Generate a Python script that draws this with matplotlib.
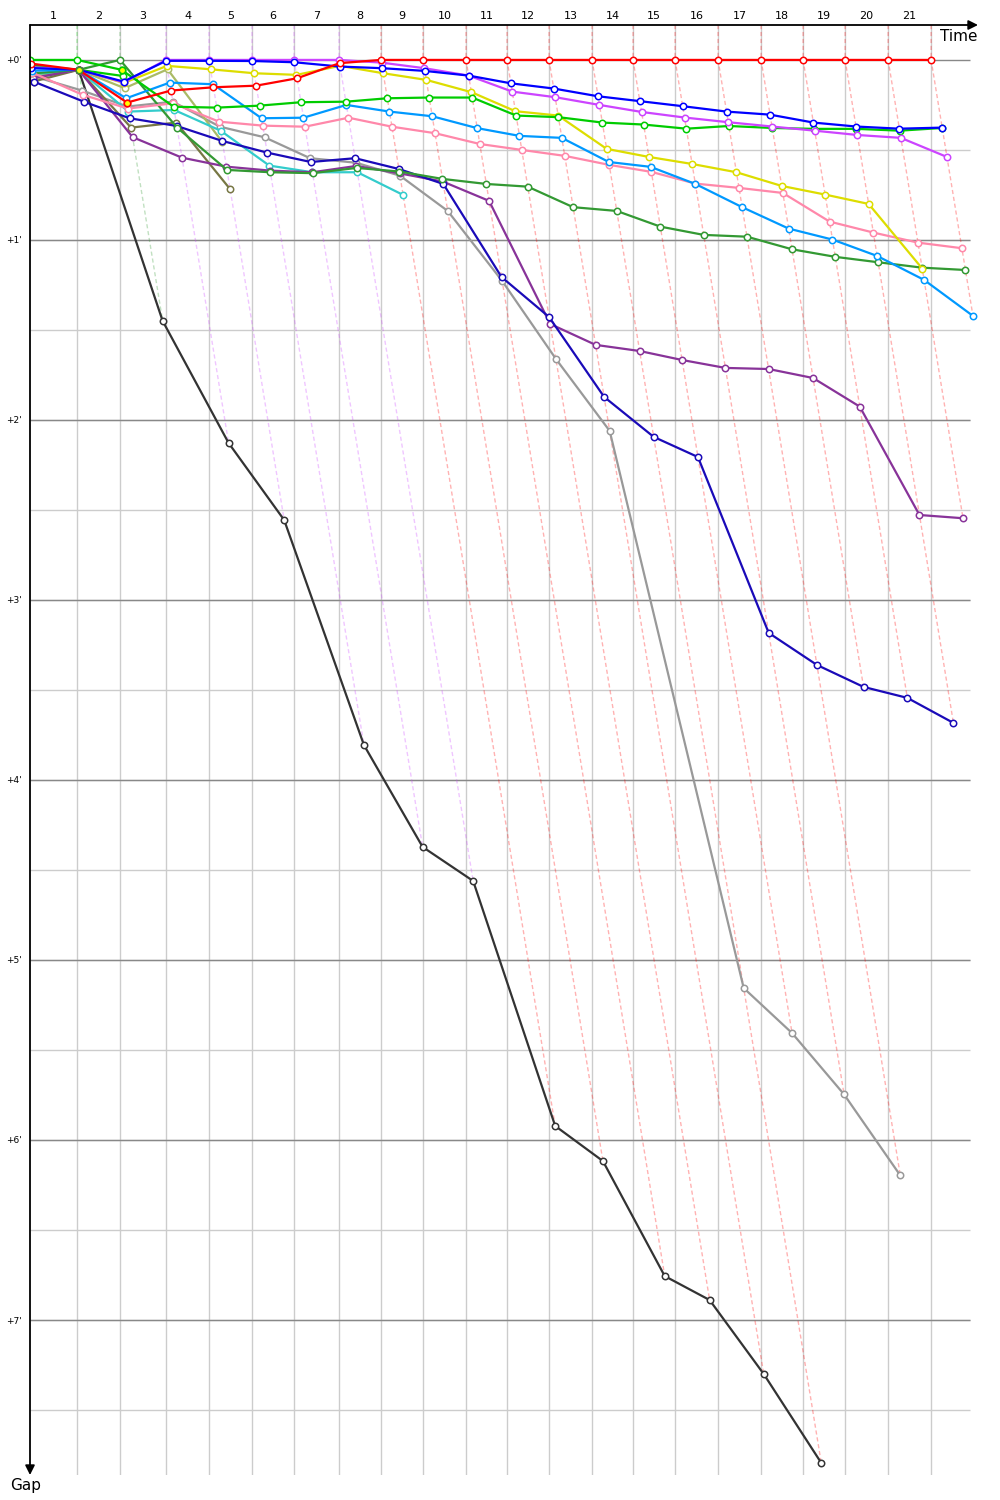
import numpy as np
import matplotlib.pyplot as plt

# time the leader crossed the line at the end of each lap (minutes), lap 0 = start
leader_time = [0.0, 1.599, 3.061, 4.626, 6.088, 7.551, 8.980, 10.510, 11.939, 13.367,
               14.830, 16.224, 17.653, 19.116, 20.510, 21.939, 23.401, 24.864, 26.293,
               27.721, 29.184, 30.646]
lap_labels = [str(i) for i in range(1, 22)]
gap_ticks = [0, 1, 2, 3, 4, 5, 6, 7]
gap_tick_labels = ["+0'", "+1'", "+2'", "+3'", "+4'", "+5'", "+6'", "+7'"]

# gap to the leader (minutes) at the end of each lap, starting at lap 0
gap_red = [0.02, 0.055, 0.237, 0.17, 0.152, 0.143, 0.102, 0.018, 0, 0, 0, 0, 0, 0, 0,
           0, 0, 0, 0, 0, 0, 0]
gap_blue = [0.045, 0.055, 0.12, 0.005, 0.005, 0.006, 0.013, 0.037, 0.046, 0.061, 0.087,
            0.13, 0.159, 0.202, 0.229, 0.257, 0.287, 0.304, 0.348, 0.37, 0.382, 0.376]
gap_violet = [0.04, 0.055, 0.125, 0, 0, 0, 0, 0, 0.015, 0.046, 0.087, 0.176, 0.207,
              0.25, 0.289, 0.32, 0.346, 0.37, 0.393, 0.417, 0.433, 0.539]
gap_green = [0.0, 0.0, 0.055, 0.26, 0.265, 0.254, 0.235, 0.232, 0.213, 0.209, 0.209,
             0.309, 0.318, 0.348, 0.359, 0.382, 0.367, 0.378, 0.383, 0.383, 0.393, 0.378]
gap_green2 = [0.03, 0.055, 0.089]
gap_yellow = [0.035, 0.055, 0.128, 0.033, 0.052, 0.074, 0.083, 0.033, 0.074, 0.111,
              0.179, 0.285, 0.309, 0.494, 0.539, 0.578, 0.624, 0.7, 0.748, 0.8, 1.159]
gap_lightblue = [0.06, 0.055, 0.213, 0.126, 0.135, 0.324, 0.321, 0.25, 0.287, 0.313,
                 0.379, 0.422, 0.433, 0.567, 0.594, 0.689, 0.818, 0.937, 0.998, 1.089,
                 1.222, 1.422]
gap_pink = [0.07, 0.194, 0.27, 0.241, 0.343, 0.365, 0.371, 0.321, 0.371, 0.407, 0.467,
            0.5, 0.533, 0.583, 0.622, 0.687, 0.711, 0.739, 0.898, 0.959, 1.015, 1.046]
gap_dkgreen = [0.075, 0.055, 0.0, 0.376, 0.611, 0.624, 0.629, 0.6, 0.62, 0.661, 0.689,
               0.704, 0.818, 0.839, 0.926, 0.972, 0.982, 1.052, 1.094, 1.124, 1.154,
               1.167]
gap_navy = [0.12, 0.232, 0.324, 0.367, 0.45, 0.515, 0.567, 0.546, 0.606, 0.689, 1.206,
            1.428, 1.872, 2.094, 2.206, 3.183, 3.361, 3.483, 3.544, 3.683]
gap_purple = [0.1, 0.055, 0.429, 0.543, 0.593, 0.615, 0.624, 0.589, 0.63, 0.676, 0.783,
              1.467, 1.583, 1.617, 1.667, 1.711, 1.717, 1.767, 1.926, 2.528, 2.546]
gap_gray = [0.09, 0.17, 0.259, 0.232, 0.371, 0.43, 0.546, 0.571, 0.643, 0.839, 1.228,
            1.661, 2.061, 5.156, 5.406, 5.747, 6.197]
gap_black = [0.1, 0.055, 1.45, 2.128, 2.556, 3.806, 4.372, 4.561, 5.922, 6.117, 6.756,
             6.889, 7.3, 7.794]
gap_cyan = [0.08, 0.055, 0.287, 0.278, 0.393, 0.587, 0.624, 0.624, 0.75]
gap_olive = [0.12, 0.055, 0.376, 0.348, 0.718]
gap_paleolive = [0.09, 0.055, 0.157, 0.052, 0.457]

# drawn in this order, last one on top
drivers = [
    ("black", gap_black, "#333333"),
    ("gray", gap_gray, "#999999"),
    ("olive", gap_olive, "#777744"),
    ("paleolive", gap_paleolive, "#aabb66"),
    ("cyan", gap_cyan, "#33cccc"),
    ("purple", gap_purple, "#883399"),
    ("navy", gap_navy, "#1a0ab8"),
    ("dkgreen", gap_dkgreen, "#339933"),
    ("pink", gap_pink, "#ff88aa"),
    ("lightblue", gap_lightblue, "#0099ff"),
    ("yellow", gap_yellow, "#dddd00"),
    ("green2", gap_green2, "#00cc00"),
    ("green", gap_green, "#00cc00"),
    ("violet", gap_violet, "#cc44ff"),
    ("blue", gap_blue, "#0000ff"),
    ("red", gap_red, "#ff0000"),
]
# laps marked with a yellow filled circle
yellow_marks = [("dkgreen", 1), ("green", 2), ("red", 2)]

t = np.array(leader_time)
y_top, y_bot = -0.194, 7.861
x_max, grid_end = 32.24, 31.97

fig = plt.figure(figsize=(10, 15), dpi=100)
ax = fig.add_axes([0.03, 1 - 1475 / 1500, 0.948, 1450 / 1500])
ax.set_xlim(0, x_max)
ax.set_ylim(y_bot, y_top)
for s in ax.spines.values():
    s.set_visible(False)

# grid
for tx in t[1:]:
    ax.axvline(tx, color="#cccccc", lw=1, zorder=0)
for g in np.arange(0.5, 8, 0.5):
    ax.hlines(g, 0, grid_end, color="#cccccc", lw=1, zorder=0)
for g in gap_ticks:
    ax.hlines(g, 0, grid_end, color="#888888", lw=1, zorder=0.5)

# lap lines (dashed), coloured after the car leading that lap
for k in range(1, len(t)):
    pts = []
    for name, gaps, col in drivers:
        if len(gaps) > k:
            pts.append((gaps[k], col))
    pts.sort(key=lambda p: p[0])
    lead_col = pts[0][1]
    xs = [t[k]] + [t[k] + p[0] for p in pts]
    ys = [y_top] + [p[0] for p in pts]
    ax.plot(xs, ys, color=lead_col, alpha=0.3, lw=1, dashes=(3, 2), zorder=1)

# drivers
lookup = {}
for name, gaps, col in drivers:
    g = np.array(gaps)
    x = t[:len(g)] + g
    lookup[name] = (x, g, col)
    ax.plot(x, g, color=col, lw=1.6, zorder=2, marker="o", markersize=4.6,
            markerfacecolor="white", markeredgecolor=col, markeredgewidth=1.1)

for name, k in yellow_marks:
    x, g, col = lookup[name]
    ax.plot(x[k], g[k], "o", markersize=4.6, markerfacecolor="#ffff00",
            markeredgecolor=col, markeredgewidth=1.1, zorder=3)

# axes arrows
ax.annotate("", xy=(1, 1), xytext=(0, 1), xycoords="axes fraction",
            arrowprops=dict(arrowstyle="-|>", color="black", lw=1.3, mutation_scale=14,
                            shrinkA=0, shrinkB=0))
ax.annotate("", xy=(0, 0), xytext=(0, 1), xycoords="axes fraction",
            arrowprops=dict(arrowstyle="-|>", color="black", lw=1.3, mutation_scale=14,
                            shrinkA=0, shrinkB=0))
ax.text(1.0, 0.997, "Time", transform=ax.transAxes, ha="right", va="top", fontsize=11)
ax.text(-0.005, -0.002, "Gap", transform=ax.transAxes, ha="center", va="top", fontsize=11)

# lap numbers on top
mids = (t[:-1] + t[1:]) / 2
ax.xaxis.tick_top()
ax.set_xticks(mids, labels=lap_labels)
ax.tick_params(axis="x", length=0, pad=3, labelsize=8)
ax.set_yticks(gap_ticks, labels=gap_tick_labels)
ax.tick_params(axis="y", length=0, pad=6, labelsize=6.5)

fig.savefig("out.png", dpi=100)
